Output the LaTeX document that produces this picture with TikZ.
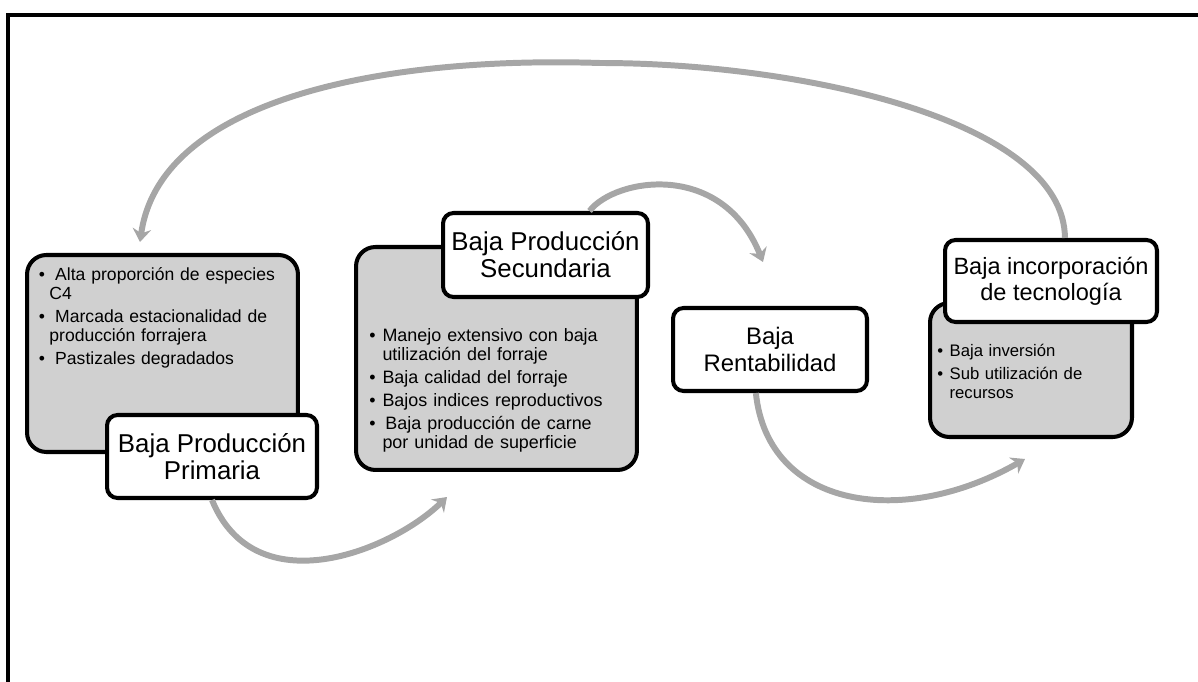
\documentclass[tikz,border=0pt]{standalone}
\usepackage{fontspec}
\setmainfont{Liberation Sans}
\usetikzlibrary{arrows.meta}

\definecolor{panelgray}{RGB}{208,208,208}
\definecolor{loopgray}{RGB}{166,166,166}

% one bullet line, hanging indent #1
\newcommand{\bitem}[2][7.5pt]{\hangindent=#1\hangafter=1\noindent\strut\makebox[#1][l]{\textbullet}#2\par}

\begin{document}
\begin{tikzpicture}[x=0.02cm, y=-0.02cm,
	panel/.style = {draw, line width=2.3pt, fill=panelgray, rounded corners=11pt},
	title/.style = {draw, line width=2.3pt, fill=white, rounded corners=6pt, align=center, inner sep=2pt, font=\fontsize{14.7}{15.4}\selectfont},
	bullets/.style = {inner sep=0pt, text width=5.5cm, align=left, font=\fontsize{10}{10.8}\selectfont, execute at begin node={\setlength{\parskip}{2.2pt}}},
	loop/.style = {draw=loopgray, line width=3.4pt, -{Stealth[length=7.5pt, width=10.5pt, inset=2.5pt]}}]
	
	\useasboundingbox (0,0) rectangle (1198,682);
	\draw[line width=2pt] (8,682) -- (8,15) -- (1198,15);
	
	% grey panels
	\node[panel, minimum width=5.42cm, minimum height=3.94cm] (p1) at (162.5,353.5) {};
	\node[panel, minimum width=5.62cm, minimum height=4.46cm] (p2) at (496.5,358.5) {};
	\node[panel, minimum width=4.04cm, minimum height=2.68cm] (p4) at (1031,370) {};
	
	% titles
	\node[title, minimum width=4.2cm, minimum height=1.66cm] (t1) at (212,456.5) {Baja Producción\\Primaria};
	\node[title, minimum width=4.1cm, minimum height=1.68cm] (t2) at (545.5,255) {Baja Producción\\Secundaria};
	\node[title, minimum width=3.88cm, minimum height=1.66cm, font=\fontsize{13.6}{15.4}\selectfont] (t3) at (770,349.5) {Baja\\Rentabilidad};
	\node[title, minimum width=4.24cm, minimum height=1.64cm, font=\fontsize{13.4}{14.6}\selectfont] (t4) at (1051,281) {Baja incorporación\\de tecnología};
	
	% bullet texts
	\node[bullets, anchor=north west] (l1) at (38.5,267) {%
		\bitem[6pt]{\ Alta proporción de especies\newline C4}%
		\bitem[6pt]{\ Marcada estacionalidad de\newline producción forrajera}%
		\bitem[6pt]{\ Pastizales degradados}};
	\node[bullets, anchor=north west, font=\fontsize{10.2}{10.8}\selectfont] (l2) at (369,328) {%
		\bitem{Manejo extensivo con baja\newline utilización del forraje}%
		\bitem{Baja calidad del forraje}%
		\bitem{Bajos indices reproductivos}%
		\bitem{\,Baja producción de carne\newline por unidad de superficie}};
	\node[bullets, anchor=north west, font=\fontsize{9.5}{10.8}\selectfont] (l4) at (937,343) {%
		\bitem[7pt]{Baja inversión}%
		\bitem[7pt]{Sub utilización de\newline recursos}};
	
	% arrow ends
	\coordinate (e1) at (447,497);
	\coordinate (e2) at (763,262);
	\coordinate (e3) at (1025,459);
	\coordinate (top) at (600,63);
	\coordinate (e4) at (140,242);
	
	\draw[loop] (t1.south) .. controls (255,605) and (390,552) .. (e1);
	\draw[loop] (t2.45) .. controls (615,178) and (722,160) .. (e2);
	\draw[loop] (t3.-108) .. controls (768,510) and (905,528) .. (e3);
	\draw[loop] (t4.72) .. controls (1064,120) and (800,63) .. (top) .. controls (380,56) and (160,100) .. (e4);
	
\end{tikzpicture}
\end{document}
